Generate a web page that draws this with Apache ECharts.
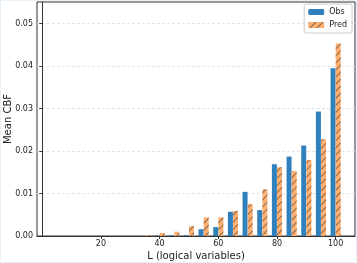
<!DOCTYPE html>
<html><head><meta charset="utf-8">
<script src="https://cdn.jsdelivr.net/npm/echarts@6/dist/echarts.min.js"></script>
<style>html,body{margin:0;padding:0;background:#fff;}#c{width:357px;height:263px;box-sizing:border-box;border:1px solid #e6f1fa;}</style>
</head><body><div id="c"></div>
<script>
const L = [5,10,15,20,25,30,35,40,45,50,55,60,65,70,75,80,85,90,95,100];
const obs = [0,0,0,0,0,0,0,0.0001,0.0002,0.0002,0.0016,0.0021,0.0057,0.0104,0.0061,0.0169,0.0187,0.0213,0.0293,0.0395];
const pred = [0,0,0,0,0,0,0.0002,0.0007,0.0010,0.0023,0.0044,0.0044,0.0059,0.0075,0.0110,0.0162,0.0153,0.0179,0.0228,0.0453];
const xTicks = [20,40,60,80,100];
const yTicks = [0,0.01,0.02,0.03,0.04,0.05];
const half = 0.875;
const font = 'DejaVu Sans';
const chart = echarts.init(document.getElementById('c'));
chart.setOption({
  animation:false,
  textStyle:{fontFamily:font},
  grid:{left:36,right:1,top:1,bottom:26,show:true,borderColor:'#333',borderWidth:1,outerBoundsMode:'none',containLabel:false},
  legend:{right:4,top:3,orient:'vertical',itemWidth:16,itemHeight:6,itemGap:5,
    padding:[4,5,4,4],borderColor:'#ccc',borderWidth:1,borderRadius:2,backgroundColor:'#fff',
    textStyle:{fontSize:8,color:'#222',fontFamily:font},data:['Obs','Pred']},
  xAxis:{type:'value',min:-1.8,max:106.6,
    name:'L (logical variables)',nameLocation:'middle',nameGap:15,nameMoveOverlap:false,
    nameTextStyle:{fontSize:10,color:'#222',fontFamily:font},
    axisLine:{show:true,lineStyle:{color:'#333'}},
    axisTick:{show:true,length:3,customValues:xTicks,lineStyle:{color:'#333'}},
    axisLabel:{customValues:xTicks,fontSize:8,color:'#222',margin:4,fontFamily:font},
    splitLine:{show:false}},
  yAxis:{type:'value',min:0,max:0.0551,interval:0.01,
    name:'Mean CBF',nameLocation:'middle',nameGap:24,nameMoveOverlap:false,
    nameTextStyle:{fontSize:10,color:'#222',fontFamily:font},
    axisLine:{show:true,lineStyle:{color:'#333'}},
    axisTick:{show:true,length:3,customValues:yTicks,lineStyle:{color:'#333'}},
    axisLabel:{customValues:yTicks,fontSize:8,color:'#222',margin:4,fontFamily:font,
      formatter:v=>v.toFixed(2)},
    splitLine:{show:true,lineStyle:{type:[3,2],color:'#ddd',width:0.8}}},
  series:[
    {name:'Obs',type:'bar',barWidth:5,barGap:'-100%',
      itemStyle:{color:'#2f80bd',borderWidth:0},
      data:L.map((x,i)=>[x-half,obs[i]])},
    {name:'Pred',type:'bar',barWidth:5,barGap:'-100%',
      itemStyle:{color:'#ffb070',borderWidth:0,
        decal:{symbol:'rect',color:'rgba(90,80,70,0.75)',dashArrayX:[1,0],dashArrayY:[1,4],rotation:-Math.PI/4,symbolSize:1}},
      data:L.map((x,i)=>[x+half,pred[i]])}
  ]
});
</script></body></html>
